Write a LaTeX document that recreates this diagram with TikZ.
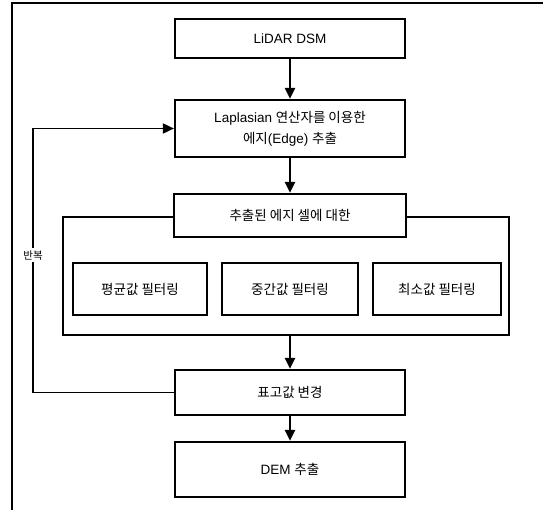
\documentclass[tikz,border=0pt]{standalone}
\usepackage{fontspec}
\setmainfont{Liberation Sans}
\newfontfamily\kr{Noto Sans CJK KR}
\usetikzlibrary{arrows.meta}

\tikzset{
  stepbox/.style={draw, line width=2.2pt, fill=white, align=center,
    font=\fontsize{13.5}{21}\selectfont, inner sep=0pt},
  filterbox/.style={stepbox, minimum height=52pt},
  link/.style={->, line width=2.2pt}
}

\begin{document}
\begin{tikzpicture}[x=1pt, y=-1pt, >={Triangle[length=11pt,width=10pt]}]
\useasboundingbox (0,0) rectangle (543,510);
\draw[line width=1.6pt] (12,510) -- (12,3) -- (543,3);

\node[draw, line width=2.2pt, minimum width=446pt, minimum height=118pt, inner sep=0pt] (grp) at (286,276) {};

\node[stepbox, minimum width=230pt, minimum height=39pt] (dsm) at (290,38.5) {LiDAR DSM};
\node[stepbox, minimum width=230pt, minimum height=57pt] (lap) at (290,128.5) {Laplasian {\kr 연산자를 이용한}\\{\kr 에지}(Edge) {\kr 추출}};
\node[stepbox, minimum width=232pt, minimum height=43pt] (cell) at (290,215.5) {\kr 추출된 에지 셀에 대한};
\node[filterbox, minimum width=134pt] (mean) at (140,289) {\kr 평균값 필터링};
\node[filterbox, minimum width=136pt] (med) at (290,289) {\kr 중간값 필터링};
\node[filterbox, minimum width=128pt] (min) at (437,289) {\kr 최소값 필터링};
\node[stepbox, minimum width=230pt, minimum height=45pt] (elev) at (290,392.5) {\kr 표고값 변경};
\node[stepbox, minimum width=230pt, minimum height=55pt] (dem) at (290,469.5) {DEM {\kr 추출}};
\coordinate (back) at (33,0);

\draw[link] (dsm) -- (lap);
\draw[link] (lap) -- (cell);
\draw[link] (grp.south -| elev.north) -- (elev);
\draw[link] (elev) -- (dem);
\draw[->, line width=1.8pt] (elev.west) -- (elev.west -| back)
  -- node[pos=0.52, fill=white, inner sep=2pt, font=\fontsize{10.5}{12}\selectfont\kr] (rep) {반복} (lap.west -| back) -- (lap.west);
\end{tikzpicture}
\end{document}
